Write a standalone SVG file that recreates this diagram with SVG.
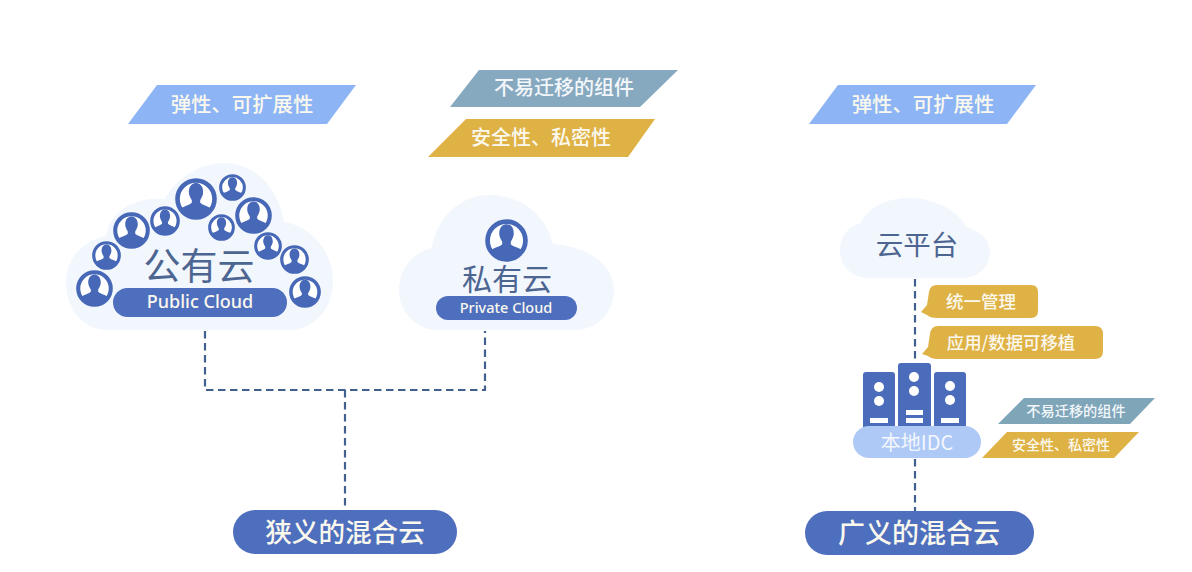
<svg xmlns="http://www.w3.org/2000/svg" width="1192" height="572" viewBox="0 0 1192 572">
<style>
text{font-family:"Noto Sans CJK SC","Noto Sans",sans-serif;text-anchor:middle}
.cloud{fill:#f2f6fd}
.pill{fill:#4e6fbd}
.blue{fill:#8db5f5}.teal{fill:#87a9bf}.gold{fill:#dfb245}
.w{fill:#fbf8ee;font-weight:500}.wb{fill:#f3f7fb;font-weight:500}
.dk{fill:#4d6591}
.conn{fill:none;stroke:#41608f;stroke-width:2.2;stroke-dasharray:7.5 4.5}
.srv{fill:#4a6cba}.hole{fill:#fff}
.lat{font-family:"Noto Sans",sans-serif}
</style>
<defs>
<symbol id="avatar" viewBox="-50 -50 100 100">
<circle r="44" fill="#fff" stroke="#4668b6" stroke-width="11"/>
<path fill="#4668b6" d="M-17-16C-17-33-7-38 0-38S17-33 17-16C17-8 12-1 10 3V9C16 15 30 17 38 24A44 44 0 0 1-38 24C-30 17-16 15-10 9V3C-12-1-17-8-17-16Z"/>
</symbol>
</defs>
<rect width="1192" height="572" fill="#fff"/>
<g id="connectors">
<path class="conn" d="M205 331V390H485V331M345 390V510"/>
<path class="conn" d="M915 279V362M915 459V511"/>
</g>
<g id="public-cloud">
<path class="cloud" d="M108 330C82 330 66 308 66 282C66 258 84 240 106 236C110 212 134 196 165 199C176 178 200 163 224 163C254 163 278 186 284 222C310 226 333 250 333 282C333 308 314 330 290 330Z"/>
<use href="#avatar" x="175" y="178" width="42" height="42"/>
<use href="#avatar" x="219" y="174" width="27" height="27"/>
<use href="#avatar" x="235" y="197" width="37" height="37"/>
<use href="#avatar" x="208" y="214" width="27" height="27"/>
<use href="#avatar" x="150" y="206" width="30" height="30"/>
<use href="#avatar" x="113" y="212" width="37" height="37"/>
<use href="#avatar" x="92" y="241" width="29" height="29"/>
<use href="#avatar" x="76" y="270" width="37" height="37"/>
<use href="#avatar" x="254" y="232" width="28" height="28"/>
<use href="#avatar" x="280" y="245" width="29" height="29"/>
<use href="#avatar" x="289" y="276" width="32" height="32"/>
<text class="dk" x="199" y="280" font-size="37">公有云</text>
<rect class="pill" x="113" y="288" width="174" height="29" rx="14.5"/>
<text class="w lat" x="200" y="308" font-size="18">Public Cloud</text>
</g>
<g id="private-cloud">
<path class="cloud" d="M438 330C416 330 399 312 399 290C399 268 414 252 432 248C436 218 460 195 490 195C520 195 546 214 553 244C586 246 614 264 614 290C614 312 598 330 574 330Z"/>
<use href="#avatar" x="485" y="219" width="43" height="43"/>
<text class="dk" x="507" y="290" font-size="30">私有云</text>
<rect class="pill" x="436" y="296" width="141" height="24" rx="12"/>
<text class="w lat" x="506" y="313" font-size="14.5">Private Cloud</text>
</g>
<g id="tag-elastic-1">
<polygon class="blue" points="157,85 356,85 327,124 128,124"/>
<text class="w" x="242" y="112" font-size="20.4">弹性、可扩展性</text>
</g>
<g id="tag-fixed-1">
<polygon class="teal" points="479,70 678,70 640,107 450,107"/>
<text class="wb" x="564" y="95" font-size="20">不易迁移的组件</text>
</g>
<g id="tag-secure-1">
<polygon class="gold" points="466,119 655,119 628,157 428,157"/>
<text class="w" x="541" y="145" font-size="20">安全性、私密性</text>
</g>
<g id="tag-elastic-2">
<polygon class="blue" points="838,85 1036,85 1007,124 809,124"/>
<text class="w" x="923" y="112" font-size="20.4">弹性、可扩展性</text>
</g>
<g id="cloud-platform">
<path class="cloud" d="M868 278C852 278 840 266 840 250C840 236 849 226 861 223C868 207 888 198 908 198C932 198 956 208 966 227C980 231 990 240 990 252C990 267 978 278 962 278Z"/>
<text class="dk" x="917" y="255" font-size="27.5">云平台</text>
</g>
<g id="tag-manage">
<path class="gold" d="M937 285H1031Q1038 285 1038 292V311Q1038 318 1031 318H937Q930 318 927 315L921 312 927 305 929 292Q930 285 937 285Z"/>
<text class="w" x="981" y="308" font-size="17.5">统一管理</text>
</g>
<g id="tag-portable">
<path class="gold" d="M938 326H1095Q1103 326 1103 334V351Q1103 359 1095 359H938Q931 359 928 356L922 354 928 347 930 334Q931 326 938 326Z"/>
<text class="w" x="1011" y="349" font-size="17.4">应用/数据可移植</text>
</g>
<g id="local-idc">
<rect class="srv" x="863" y="372" width="32" height="62" rx="3"/>
<rect class="srv" x="898" y="363" width="33" height="71" rx="3"/>
<rect class="srv" x="934" y="372" width="32" height="62" rx="3"/>
<circle class="hole" cx="879" cy="387" r="5"/><circle class="hole" cx="879" cy="401" r="5"/>
<circle class="hole" cx="914" cy="377" r="5"/><circle class="hole" cx="914" cy="391" r="5"/>
<circle class="hole" cx="950" cy="386" r="5"/><circle class="hole" cx="950" cy="400" r="5"/>
<rect class="hole" x="870" y="418" width="18" height="5"/>
<rect class="hole" x="906" y="410" width="17" height="5"/><rect class="hole" x="906" y="418" width="17" height="5"/>
<rect class="hole" x="941" y="418" width="18" height="5"/>
<rect x="853" y="426" width="128" height="32" rx="16" fill="#aec9f6"/>
<text fill="#f4f7fd" x="917" y="450" font-size="20">本地IDC</text>
</g>
<g id="tag-fixed-2">
<polygon class="teal" points="1024,398 1155,398 1130,424 998,424" style="fill:#7fa5b9"/>
<text class="wb" x="1076" y="416" font-size="14.2">不易迁移的组件</text>
</g>
<g id="tag-secure-2">
<polygon class="gold" points="1007,432 1139,432 1114,458 982,458"/>
<text class="w" x="1061" y="450" font-size="14">安全性、私密性</text>
</g>
<g id="narrow-hybrid">
<rect class="pill" x="233" y="510" width="224" height="44" rx="22"/>
<text class="w" x="345" y="542" font-size="26.6">狭义的混合云</text>
</g>
<g id="broad-hybrid">
<rect class="pill" x="805" y="511" width="229" height="44" rx="22"/>
<text class="w" x="919" y="543" font-size="27">广义的混合云</text>
</g>
</svg>
